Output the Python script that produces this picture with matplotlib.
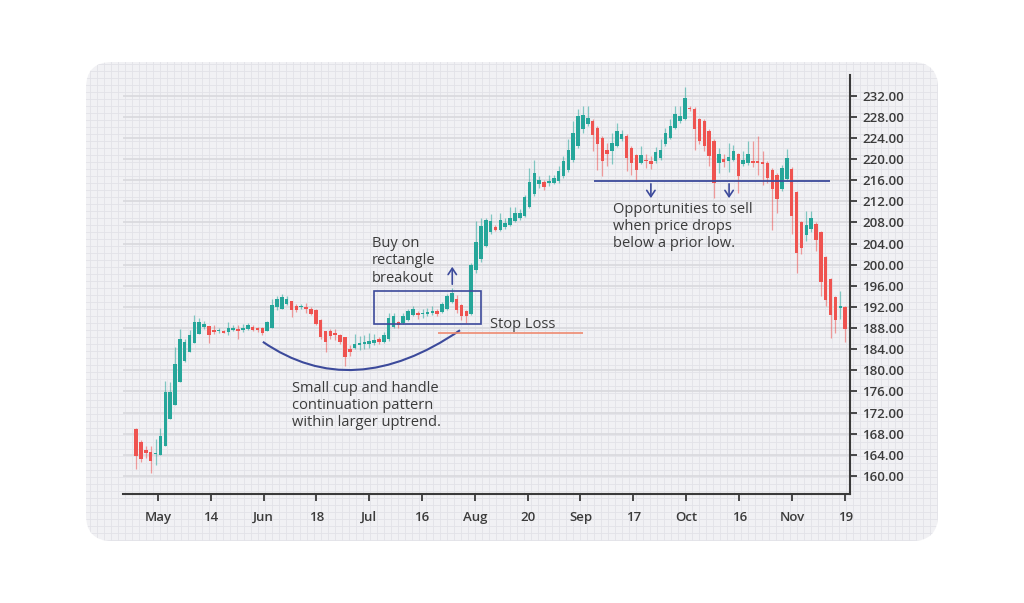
import numpy as np
import matplotlib.pyplot as plt
from matplotlib.patches import FancyBboxPatch, Rectangle, PathPatch
from matplotlib.path import Path

plt.rcParams['font.family'] = ['Open Sans', 'DejaVu Sans']

# daily candles (index = trading day)
opens = [168.9, 166.5, 164.9, 164.6, 164.1, 164.0, 165.7, 170.8, 173.5, 177.8,
         181.7, 183.5, 185.2, 186.9, 188.2, 188.4, 187.6, 187.4, 187.5, 187.3,
         187.7, 187.9, 187.6, 187.9, 188.2, 188.0, 188.0, 187.4, 188.0, 192.0,
         191.7, 192.6, 193.1, 192.2, 191.9, 192.0, 191.7, 191.5, 189.5, 187.5,
         187.4, 187.0, 186.7, 186.3, 184.0, 184.2, 184.8, 184.9, 185.0, 185.2,
         185.9, 185.4, 186.0, 188.3, 189.2, 189.0, 189.6, 190.5, 190.8, 190.6,
         190.7, 190.8, 191.3, 191.0, 191.6, 193.0, 193.6, 192.4, 191.2, 190.6,
         199.0, 201.0, 203.6, 206.1, 207.2, 206.6, 207.2, 207.6, 208.2, 208.8,
         209.3, 211.0, 213.3, 215.2, 215.6, 215.5, 215.5, 215.8, 216.7, 218.0,
         219.9, 222.4, 225.6, 226.6, 227.2, 225.9, 224.0, 221.8, 221.5, 222.5,
         223.7, 224.4, 222.1, 220.7, 219.3, 219.9, 219.7, 219.6, 220.2, 222.8,
         224.0, 225.9, 227.2, 227.6, 229.7, 229.5, 227.5, 227.2, 225.3, 223.4,
         219.2, 220.0, 219.6, 219.9, 220.9, 219.0, 219.2, 219.7, 219.6, 219.4,
         219.3, 218.0, 217.0, 214.3, 216.3, 218.2, 213.7, 208.0, 205.6, 206.7,
         207.7, 206.1, 201.4, 197.2, 193.8, 191.8, 191.9]
highs = [169.1, 166.8, 165.7, 165.7, 167.1, 169.0, 177.9, 177.8, 184.4, 187.8,
         186.0, 187.6, 190.5, 189.9, 189.4, 188.4, 188.5, 188.0, 187.6, 189.2,
         188.5, 188.5, 188.8, 189.0, 188.5, 188.2, 188.2, 189.4, 193.6, 194.1,
         194.4, 194.1, 193.1, 192.6, 192.6, 192.8, 192.0, 191.7, 189.8, 187.5,
         187.9, 187.9, 186.9, 186.3, 184.8, 186.8, 186.5, 186.6, 187.0, 186.8,
         186.3, 187.2, 190.8, 190.8, 189.4, 190.8, 191.6, 192.2, 191.3, 191.6,
         191.8, 192.2, 191.6, 192.9, 194.4, 195.6, 194.2, 192.6, 191.4, 200.3,
         208.2, 208.8, 208.8, 209.5, 207.6, 209.8, 208.8, 211.0, 211.0, 210.5,
         213.2, 218.3, 219.9, 216.7, 216.1, 216.9, 217.0, 218.6, 220.5, 223.7,
         227.2, 229.4, 230.0, 230.0, 227.5, 226.2, 224.3, 223.0, 225.0, 226.9,
         225.5, 224.7, 222.4, 221.0, 222.4, 220.9, 220.5, 222.2, 223.8, 225.8,
         227.5, 230.0, 230.0, 233.7, 230.0, 229.8, 227.8, 227.5, 225.6, 223.7,
         222.1, 221.0, 223.0, 222.7, 221.2, 221.5, 223.4, 223.4, 224.3, 221.5,
         219.6, 218.3, 217.3, 218.9, 221.9, 218.5, 214.0, 208.3, 210.2, 210.2,
         208.0, 206.4, 201.7, 197.5, 194.1, 195.0, 192.2]
lows = [161.3, 162.6, 163.5, 160.5, 162.0, 164.0, 165.7, 170.8, 173.5, 177.8,
        181.6, 183.5, 185.2, 186.9, 187.9, 185.2, 186.9, 187.0, 187.0, 186.6,
        187.4, 186.0, 187.2, 187.6, 187.5, 187.3, 186.6, 187.4, 188.0, 191.4,
        191.7, 192.4, 190.1, 191.1, 191.6, 190.8, 190.5, 188.5, 186.0, 183.4,
        186.0, 185.7, 185.0, 180.9, 182.8, 184.0, 183.8, 184.0, 184.2, 184.8,
        184.9, 185.2, 185.6, 188.0, 188.0, 188.8, 189.4, 190.2, 189.8, 190.0,
        190.3, 190.4, 190.2, 190.8, 191.4, 192.8, 190.8, 189.6, 189.0, 190.4,
        198.5, 200.5, 203.3, 205.8, 206.3, 206.3, 206.8, 207.4, 208.0, 208.5,
        209.0, 210.8, 213.0, 214.5, 214.2, 214.8, 215.2, 215.5, 216.4, 217.5,
        219.5, 222.0, 225.0, 226.2, 221.5, 218.0, 216.8, 218.7, 219.0, 222.2,
        223.4, 217.7, 217.0, 215.8, 219.0, 218.3, 218.1, 219.3, 219.9, 222.5,
        223.7, 225.6, 226.9, 227.3, 229.1, 221.8, 222.8, 221.5, 218.7, 212.6,
        217.4, 218.4, 217.6, 219.6, 213.6, 218.7, 218.9, 218.5, 217.0, 215.0,
        215.5, 206.6, 209.8, 214.0, 216.0, 205.8, 198.5, 202.0, 204.5, 206.2,
        202.6, 194.1, 192.2, 186.2, 187.1, 189.7, 185.3]
closes = [163.8, 163.2, 164.3, 162.9, 164.4, 167.6, 175.9, 175.9, 181.2, 186.0,
          185.4, 186.7, 189.2, 189.2, 188.8, 186.7, 187.3, 187.6, 187.1, 188.0,
          188.1, 187.5, 188.1, 188.6, 187.7, 187.6, 187.1, 189.1, 192.3, 193.6,
          193.9, 193.6, 191.4, 191.4, 192.1, 191.6, 190.7, 188.8, 186.3, 185.3,
          186.5, 186.6, 185.4, 182.6, 183.5, 185.0, 185.2, 185.4, 185.6, 185.8,
          185.3, 186.6, 190.0, 190.2, 188.5, 190.2, 191.2, 191.6, 190.4, 190.8,
          191.1, 191.3, 190.7, 192.6, 194.0, 194.6, 191.4, 190.3, 190.2, 200.0,
          204.2, 207.4, 208.5, 208.3, 206.6, 208.5, 207.9, 208.8, 209.8, 209.8,
          212.9, 215.6, 217.4, 216.0, 214.7, 215.8, 216.4, 217.7, 219.6, 221.8,
          225.0, 228.2, 228.4, 227.8, 224.5, 222.8, 219.6, 220.9, 223.1, 225.3,
          224.7, 220.2, 219.3, 218.0, 220.7, 219.6, 219.0, 221.3, 221.8, 225.0,
          226.3, 228.5, 228.2, 231.6, 229.4, 225.6, 223.4, 222.5, 220.6, 215.5,
          220.9, 219.4, 220.4, 221.5, 216.8, 219.9, 220.9, 219.3, 219.2, 219.0,
          216.4, 214.4, 212.4, 218.3, 220.2, 209.2, 202.3, 203.2, 207.5, 208.9,
          204.7, 196.7, 193.3, 190.5, 189.5, 192.1, 187.8]

tick_pos = [4.5, 15.4, 26.3, 37.1, 48.0, 58.9, 69.8, 80.7, 91.5, 102.4, 113.3, 124.2, 135.1, 146.0]
tick_labels = ['May', '14', 'Jun', '18', 'Jul', '16', 'Aug', '20', 'Sep', '17', 'Oct', '16', 'Nov', '19']
price_ticks = np.arange(160, 233, 4)

up_col = '#26a69a'
dn_col = '#ef5350'
navy = '#3c4a9b'
txt_col = '#3b3b3b'

fig = plt.figure(figsize=(10.24, 6.03), dpi=100)

# background card with graph-paper texture
bg = fig.add_axes([0, 0, 1, 1])
bg.set_xlim(0, 1024)
bg.set_ylim(603, 0)
bg.axis('off')
card = FancyBboxPatch((86, 62), 852, 479, boxstyle='round,pad=0,rounding_size=26',
                      fc='#f1f1f4', ec='none')
bg.add_patch(card)
for gx in np.arange(90, 940, 7.0):
    ln = bg.axvline(gx, color='#e2e2e8', lw=0.6)
    ln.set_clip_path(card)
for gy in np.arange(64, 545, 7.0):
    ln = bg.axhline(gy, color='#e2e2e8', lw=0.6)
    ln.set_clip_path(card)

ax = fig.add_axes([123/1024, 1 - 494/603, (850 - 123)/1024, (494 - 75)/603])
ax.patch.set_alpha(0)

o = np.array(opens); h = np.array(highs); l = np.array(lows); c = np.array(closes)
x = np.arange(len(o))
cols = np.where(c >= o, up_col, dn_col)
ax.vlines(x, l, h, colors=cols, lw=0.9, alpha=0.55, zorder=3)
body = np.maximum(np.abs(c - o), 0.3)
ax.bar(x, body, bottom=np.minimum(o, c), width=0.72, color=cols, zorder=4)

ax.set_xlim(-2.7, 147.0)
ax.set_ylim(156.6, 235.9)
ax.set_yticks(price_ticks)
ax.set_yticklabels([f'{v:.2f}' for v in price_ticks])
ax.set_xticks(tick_pos)
ax.set_xticklabels(tick_labels)
ax.yaxis.tick_right()
ax.grid(axis='y', color='#dadade', lw=1.3)
ax.set_axisbelow(True)
for s in ['top', 'left']:
    ax.spines[s].set_visible(False)
for s in ['bottom', 'right']:
    ax.spines[s].set_color('#3a3a3a')
    ax.spines[s].set_linewidth(1.5)
ax.tick_params(colors='#3a3a3a', labelcolor=txt_col, labelsize=9.5, length=5, width=1.3, pad=4)
ax.tick_params(axis='x', pad=7)
for lab in ax.get_xticklabels() + ax.get_yticklabels():
    lab.set_fontweight('semibold')

# annotations
rect = Rectangle((49.0, 188.8), 22.0, 6.2, fill=False, ec=navy, lw=1.2, zorder=5)
ax.add_patch(rect)
cup = Path([(26.1, 185.4), (44.6, 173.7), (66.7, 187.6)], [Path.MOVETO, Path.CURVE3, Path.CURVE3])
ax.add_patch(PathPatch(cup, fc='none', ec=navy, lw=1.5, zorder=5))
ax.hlines(187.1, 62.2, 92.0, color='#ee8a70', lw=1.2, zorder=5)
ax.hlines(215.9, 94.3, 142.9, color=navy, lw=1.3, zorder=5)

arw = dict(arrowstyle='->,head_length=0.45,head_width=0.3', color=navy, lw=1.2, shrinkA=0, shrinkB=0)
ax.annotate('', xy=(65.1, 199.6), xytext=(65.1, 196.3), arrowprops=arw)
for ax_x in [106.0, 122.1]:
    ax.annotate('', xy=(ax_x, 212.6), xytext=(ax_x, 215.3), arrowprops=arw)

tk = dict(color=txt_col, fontsize=10.5, fontweight='medium', linespacing=1.2, ha='left', va='center')
ax.text(48.6, 200.7, 'Buy on\nrectangle\nbreakout', **tk)
ax.text(72.9, 188.6, 'Stop Loss', **tk)
ax.text(98.2, 207.2, 'Opportunities to sell\nwhen price drops\nbelow a prior low.', **tk)
ax.text(32.1, 173.4, 'Small cup and handle\ncontinuation pattern\nwithin larger uptrend.', **tk)

fig.savefig('out.png', dpi=100)
